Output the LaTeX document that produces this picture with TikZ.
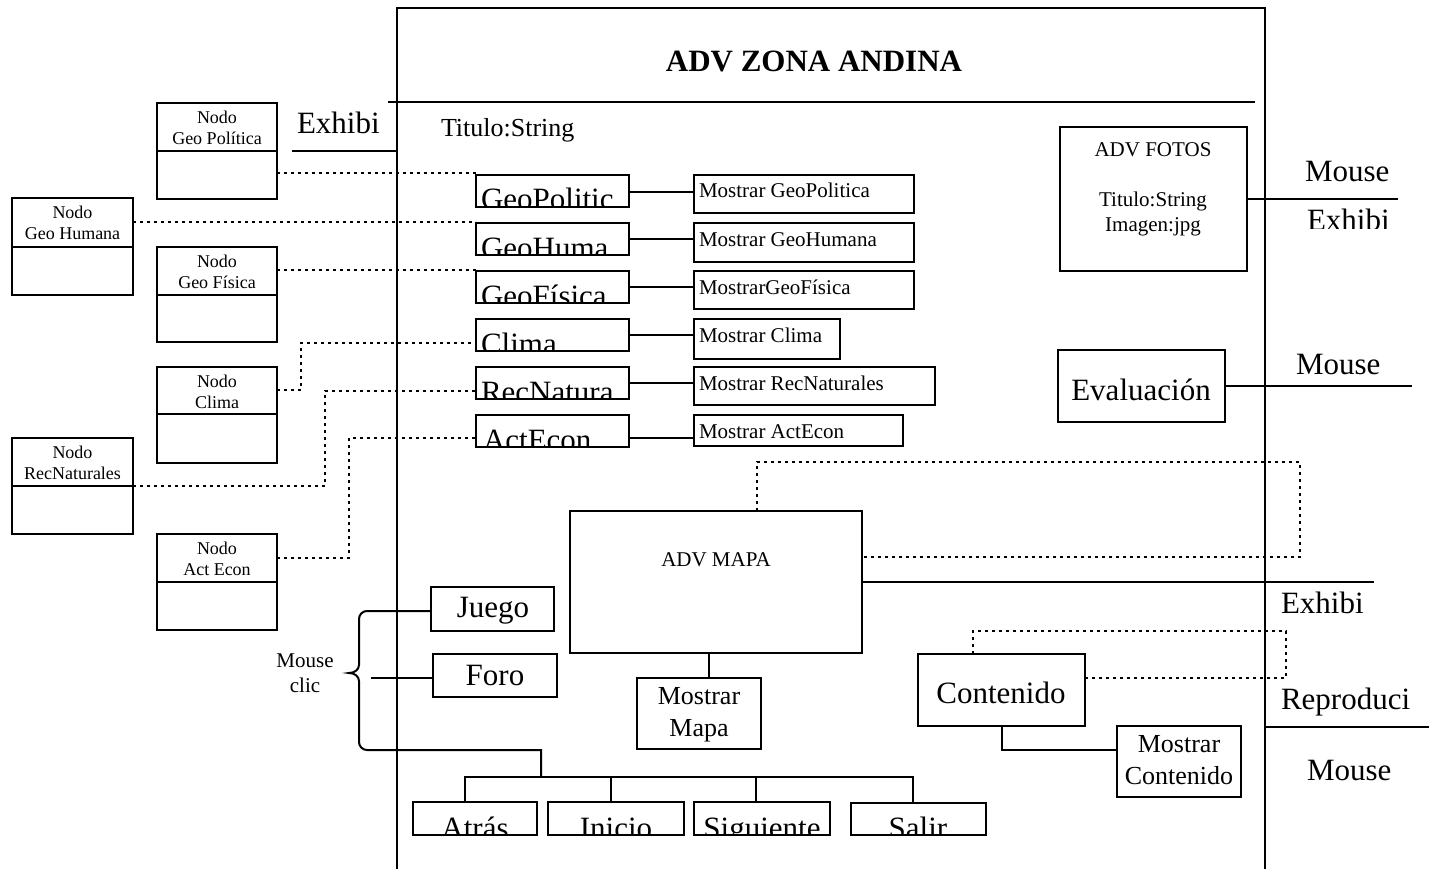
\documentclass[tikz,border=0pt]{standalone}
\usepackage{fontspec}
\setmainfont{Liberation Serif}
\newcommand\fsz[2]{\fontsize{#1}{#2}\selectfont}
\tikzset{
  rbox/.style={draw, line width=2pt, rectangle, inner sep=0pt, outer sep=0pt},
  wire/.style={line width=2pt},
  fine wire/.style={line width=1.6pt},
  dotline/.style={line width=2.6pt, dash pattern=on 2.6pt off 4.4pt},
  txt/.style={inner sep=0pt, outer sep=0pt},
  fbig/.style={txt, font=\fsz{31}{36}},
  fmid/.style={txt, font=\fsz{26}{32}},
  fsmall/.style={txt, font=\fsz{21}{24}},
  ftiny/.style={txt, font=\fsz{18}{21}},
}
% rectangle node given by its corners: name, x1, y1, x2, y2
\newcommand\mkbox[5]{\node[rbox, minimum width={#4-#2}, minimum height={#5-#3}] (#1) at ({(#2+#4)/2},{(#3+#5)/2}) {};}
% two-compartment node box: name, x1, y1, x2, y2, divider y, label
\newcommand\nodobox[7]{%
  \mkbox{#1}{#2}{#3}{#4}{#5}
  \draw[wire] (#2,#6) -- (#4,#6);
  \node[ftiny, align=center] (#1-t) at ({(#2+#4)/2},{#3+24.4}) {Nodo\\#7};}
% label cut off by the bottom edge of its box: name, x1, y1, x2, y2, anchor, x, text
\newcommand\cutlabel[8]{%
  \begin{scope}
    \clip (#2,#3) rectangle (#4,#5);
    \node[fbig, anchor=#6] (#1) at (#7,{#5+3}) {#8};
  \end{scope}}
\begin{document}
\begin{tikzpicture}[x=1pt,y=-1pt]
\useasboundingbox (0,0) rectangle (1429,869);

% ---- main ADV frame ----
\mkbox{adv}{397}{8}{1265}{871}
\draw[wire] (388,102) -- (1255,102);
\node[txt, font=\bfseries\fsz{31}{36}, anchor=base] (title) at (814,72) {ADV ZONA ANDINA};
\node[fmid, anchor=base west] (attr) at (441,137) {Titulo:String};

\node[fbig, anchor=base west] (exh1) at (297,134) {Exhibi};
\coordinate (exh1end) at (292,151);
\draw[wire] (adv.west |- exh1end) -- (exh1end);

% ---- external nodes ----
\nodobox{ngp}{157}{103}{277}{199}{151}{Geo Política}
\nodobox{ngh}{12}{198}{133}{295}{247}{Geo Humana}
\nodobox{ngf}{157}{247}{277}{342}{295}{Geo Física}
\nodobox{ncl}{157}{367}{277}{463}{414}{Clima}
\nodobox{nrn}{12}{438}{133}{534}{486}{RecNaturales}
\nodobox{nae}{157}{534}{277}{630}{582}{Act Econ}

% ---- menu entries ----
\cutlabel{mgp-t}{476}{175}{629}{207}{base west}{481}{GeoPolitic}
\mkbox{mgp}{476}{175}{629}{207}
\cutlabel{mgh-t}{476}{223}{629}{255}{base west}{481}{GeoHuma}
\mkbox{mgh}{476}{223}{629}{255}
\cutlabel{mgf-t}{476}{271}{629}{303}{base west}{481}{GeoFísica}
\mkbox{mgf}{476}{271}{629}{303}
\cutlabel{mcl-t}{476}{319}{629}{351}{base west}{481}{Clima}
\mkbox{mcl}{476}{319}{629}{351}
\cutlabel{mrn-t}{476}{367}{629}{399}{base west}{481}{RecNatura}
\mkbox{mrn}{476}{367}{629}{399}
\cutlabel{mae-t}{476}{415}{629}{447}{base west}{483}{ActEcon}
\mkbox{mae}{476}{415}{629}{447}

% ---- show actions ----
\mkbox{sgp}{694}{175}{914}{213}
\node[fsmall, anchor=base west] (sgp-t) at (699,198) {Mostrar GeoPolitica};
\mkbox{sgh}{694}{223}{914}{262}
\node[fsmall, anchor=base west] (sgh-t) at (699,246) {Mostrar GeoHumana};
\mkbox{sgf}{694}{271}{914}{309}
\node[fsmall, anchor=base west] (sgf-t) at (699,294) {MostrarGeoFísica};
\mkbox{scl}{694}{319}{840}{359}
\node[fsmall, anchor=base west] (scl-t) at (699,342) {Mostrar Clima};
\mkbox{srn}{694}{367}{935}{405}
\node[fsmall, anchor=base west] (srn-t) at (699,390) {Mostrar RecNaturales};
\mkbox{sae}{694}{415}{903}{446}
\node[fsmall, anchor=base west] (sae-t) at (699,438) {Mostrar ActEcon};

\draw[wire] (mgp.east |- 0,192) -- (sgp.west |- 0,192);
\draw[wire] (mgh.east |- 0,239) -- (sgh.west |- 0,239);
\draw[wire] (mgf.east |- 0,287) -- (sgf.west |- 0,287);
\draw[wire] (mcl.east |- 0,335) -- (scl.west |- 0,335);
\draw[wire] (mrn.east |- 0,383) -- (srn.west |- 0,383);
\draw[wire] (mae.east |- 0,438) -- (sae.west |- 0,438);

% ---- links from the external nodes ----
\draw[dotline] (ngp.east |- 0,173) -- (mgp.west |- 0,173);
\draw[dotline] (ngh.east |- 0,222) -- (mgh.west |- 0,222);
\draw[dotline] (ngf.east |- 0,270) -- (mgf.west |- 0,270);
\coordinate (bcl) at (301,343);
\coordinate (brn) at (325,391);
\coordinate (bae) at (349,438);
\draw[dotline] (ncl.east |- 0,390) -| (bcl) -- (mcl.west |- bcl);
\draw[dotline] (nrn.east |- 0,486) -| (brn) -- (mrn.west |- brn);
\draw[dotline] (nae.east |- 0,558) -| (bae) -- (mae.west |- bae);

% ---- photos ----
\mkbox{fotos}{1060}{127}{1247}{271}
\node[fsmall, anchor=base] (fotos-t) at (1153,157) {ADV FOTOS};
\node[fsmall, anchor=base] (fotos-a) at (1153,207) {Titulo:String};
\node[fsmall, anchor=base] (fotos-b) at (1153,231) {Imagen:jpg};
\coordinate (fotosend) at (1398,199);
\draw[fine wire] (fotos.east |- fotosend) -- (fotosend);
\node[fbig, anchor=base west] (m1) at (1305,182) {Mouse};
\begin{scope}
  \clip (1290,200) rectangle (1429,228);
  \node[fbig, anchor=base west] (e2) at (1307,230) {Exhibi};
\end{scope}

% ---- evaluation ----
\mkbox{eval}{1058}{350}{1225}{422}
\node[fbig, anchor=base] (eval-t) at (1141,400) {Evaluación};
\coordinate (evalend) at (1412,386);
\draw[fine wire] (eval.east |- evalend) -- (evalend);
\node[fbig, anchor=base west] (m2) at (1296,374) {Mouse};

% ---- map ----
\mkbox{map}{570}{511}{862}{653}
\node[fsmall, anchor=base] (map-t) at (716,566) {ADV MAPA};
\coordinate (maploop1) at (757,462);
\coordinate (maploop2) at (1300,557);
\draw[dotline] (map.north -| maploop1) -- (maploop1) -| (maploop2) -- (map.east |- maploop2);
\coordinate (mapend) at (1374,582);
\draw[fine wire] (map.east |- mapend) -- (mapend);
\node[fbig, anchor=base west] (e3) at (1281,613) {Exhibi};

\mkbox{smap}{637}{678}{761}{749}
\node[fmid, align=center] (smap-t) at (699,715) {Mostrar\\Mapa};
\coordinate (maptap) at (709,665);
\draw[wire] (map.south -| maptap) -- (smap.north -| maptap);

% ---- content ----
\mkbox{cont}{918}{654}{1085}{726}
\node[fbig, anchor=base] (cont-t) at (1001,703) {Contenido};
\coordinate (contloop1) at (973,631);
\coordinate (contloop2) at (1286,678);
\draw[dotline] (cont.north -| contloop1) -- (contloop1) -| (contloop2) -- (cont.east |- contloop2);
\mkbox{scont}{1117}{726}{1241}{797}
\node[fmid, align=center] (scont-t) at (1179,760) {Mostrar\\Contenido};
\coordinate (contbend) at (1002,750);
\draw[wire] (cont.south -| contbend) -- (contbend) -- (scont.west |- contbend);

\coordinate (rightend) at (1429,727);
\draw[fine wire] (adv.east |- rightend) -- (rightend);
\node[fbig, anchor=base west] (r1) at (1281,709) {Reproduci};
\node[fbig, anchor=base west] (m3) at (1307,780) {Mouse};

% ---- game and forum ----
\mkbox{juego}{431}{587}{554}{631}
\node[fbig, anchor=base] (juego-t) at (493,617) {Juego};
\mkbox{foro}{433}{654}{557}{697}
\node[fbig, anchor=base] (foro-t) at (495,685) {Foro};

\coordinate (bracetop) at (367,611);
\coordinate (bracebot) at (367,750);
\coordinate (bracetip) at (349,673);
\coordinate (navdrop) at (541,777);
\draw[wire] (juego.west |- bracetop) -- (bracetop) to[out=180,in=90] (359,619) -- (359,665)
  to[out=-90,in=0] (bracetip) to[out=0,in=90] (359,681) -- (359,742)
  to[out=-90,in=180] (bracebot) -| (navdrop);
\coordinate (forostart) at (371,678);
\draw[wire] (forostart) -- (foro.west |- forostart);
\node[txt, font=\fsz{21}{25}, align=center] (clic) at (305,673) {Mouse\\clic};

% ---- navigation buttons ----
\cutlabel{atras-t}{413}{802}{537}{835}{base}{475}{Atrás}
\mkbox{atras}{413}{802}{537}{835}
\cutlabel{inicio-t}{548}{802}{684}{835}{base}{616}{Inicio}
\mkbox{inicio}{548}{802}{684}{835}
\cutlabel{sig-t}{694}{802}{830}{835}{base}{762}{Siguiente}
\mkbox{sig}{694}{802}{830}{835}
\cutlabel{salir-t}{851}{803}{986}{835}{base}{918}{Salir}
\mkbox{salir}{851}{803}{986}{835}

\coordinate (barL) at (465,777);
\coordinate (barR) at (913,777);
\draw[wire] (atras.north -| barL) -- (barL) -- (barR) -- (salir.north -| barR);
\draw[wire] (inicio.north -| 611,0) -- (611,777);
\draw[wire] (sig.north -| 756,0) -- (756,777);
\end{tikzpicture}
\end{document}
